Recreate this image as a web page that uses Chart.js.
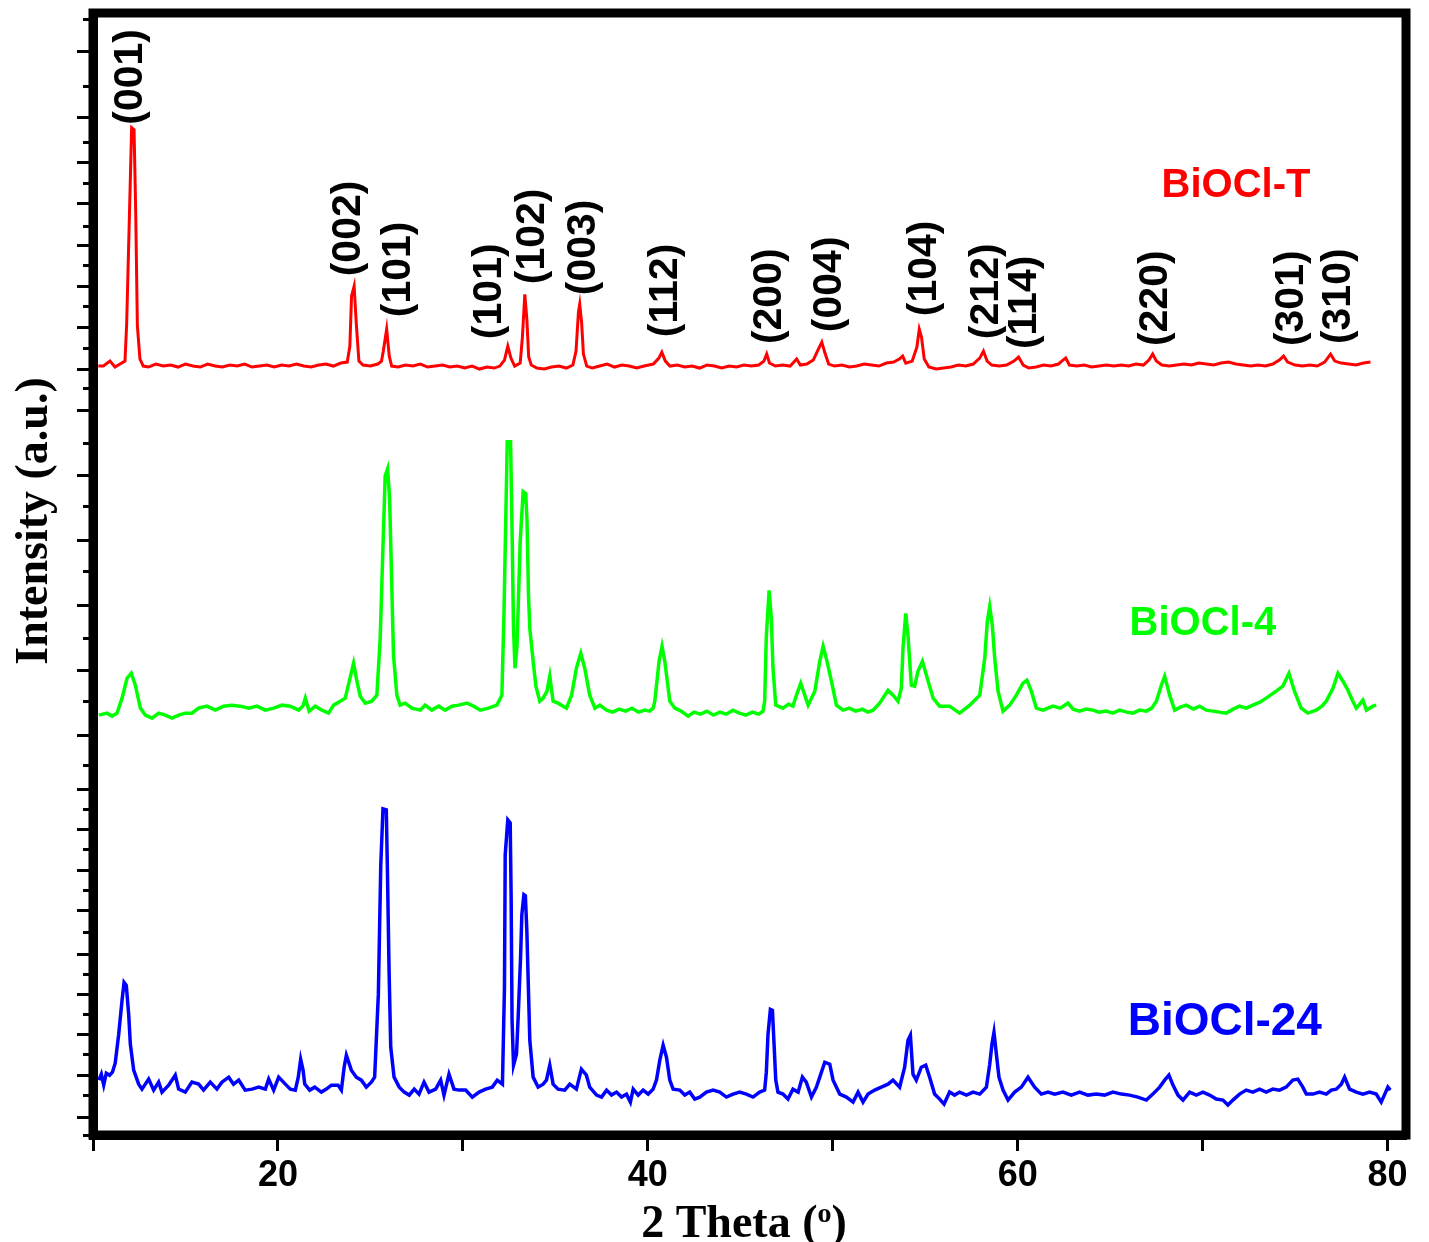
<!DOCTYPE html>
<html>
  <head>
    <script src="https://cdn.jsdelivr.net/npm/chart.js"></script>
    <style>
      body {
        margin: 0;
        padding: 0;
        background: #fff;
        overflow: hidden;
      }
      #wrap {
        width: 1429px;
        height: 1242px;
      }
    </style>
  </head>
  <body>
    <div id="wrap"><canvas id="xrdChart" width="1429" height="1242"></canvas></div>
    <script>
      // [2 theta, intensity (a.u., stacked offsets)]
      const bioclT = [
        [10.29, 771], [10.56, 771], [10.92, 776], [11.19, 770], [11.46, 773], [11.73, 776], [11.82, 813],
        [11.96, 915], [12.09, 1010], [12.22, 1008], [12.31, 925], [12.4, 811], [12.54, 778], [12.72, 771],
        [13.0, 770], [13.4, 773], [13.8, 771], [14.2, 772], [14.6, 770], [15.0, 773], [15.4, 771], [15.8, 770],
        [16.2, 773], [16.6, 771], [17.0, 770], [17.4, 772], [17.8, 771], [18.2, 773], [18.6, 770], [19.0, 771],
        [19.4, 772], [19.8, 770], [20.2, 772], [20.6, 771], [21.0, 773], [21.4, 771], [21.8, 770], [22.2, 772],
        [22.6, 773], [23.0, 771], [23.4, 774], [23.75, 775], [23.89, 791], [23.98, 841], [24.12, 851],
        [24.25, 810], [24.38, 776], [24.6, 772], [25.0, 771], [25.4, 773], [25.6, 776], [25.69, 785],
        [25.88, 808], [26.02, 781], [26.15, 771], [26.5, 770], [26.9, 772], [27.3, 771], [27.7, 773],
        [28.1, 770], [28.5, 771], [28.9, 772], [29.3, 770], [29.7, 771], [30.1, 769], [30.5, 771], [30.9, 768],
        [31.3, 770], [31.7, 769], [32.0, 771], [32.25, 777], [32.43, 791], [32.6, 779], [32.8, 771],
        [33.1, 774], [33.22, 800], [33.35, 843], [33.46, 818], [33.56, 780], [33.7, 772], [34.0, 769],
        [34.4, 768], [34.8, 770], [35.2, 771], [35.6, 769], [35.95, 772], [36.12, 786], [36.25, 825],
        [36.32, 833], [36.42, 815], [36.52, 783], [36.7, 771], [37.0, 769], [37.4, 771], [37.8, 773],
        [38.2, 770], [38.6, 772], [39.0, 771], [39.4, 769], [39.8, 771], [40.3, 773], [40.6, 779], [40.76, 785],
        [40.95, 776], [41.2, 771], [41.6, 772], [42.0, 770], [42.4, 771], [42.8, 769], [43.2, 772], [43.6, 771],
        [44.0, 769], [44.4, 771], [44.8, 770], [45.2, 772], [45.6, 771], [46.0, 772], [46.28, 776], [46.43, 783],
        [46.58, 774], [46.9, 771], [47.3, 772], [47.7, 771], [48.05, 778], [48.25, 772], [48.6, 773],
        [48.95, 777], [49.2, 787], [49.41, 795], [49.58, 784], [49.78, 773], [50.1, 771], [50.5, 772],
        [50.9, 770], [51.3, 771], [51.7, 773], [52.1, 772], [52.5, 771], [52.9, 774], [53.3, 775], [53.6, 778],
        [53.78, 781], [53.95, 774], [54.3, 776], [54.55, 790], [54.68, 808], [54.8, 800], [54.95, 778],
        [55.2, 770], [55.6, 768], [56.0, 769], [56.4, 770], [56.8, 772], [57.2, 771], [57.6, 773], [57.95, 779],
        [58.15, 786], [58.35, 776], [58.6, 772], [59.0, 771], [59.4, 772], [59.8, 776], [60.05, 780],
        [60.3, 772], [60.6, 769], [61.0, 770], [61.4, 772], [61.8, 771], [62.2, 773], [62.45, 777], [62.6, 779],
        [62.8, 772], [63.2, 771], [63.6, 772], [64.0, 770], [64.4, 771], [64.8, 772], [65.2, 771], [65.6, 772],
        [66.0, 771], [66.4, 773], [66.8, 772], [67.1, 777], [67.3, 783], [67.5, 776], [67.8, 772], [68.2, 771],
        [68.6, 772], [69.0, 773], [69.4, 772], [69.8, 774], [70.2, 773], [70.6, 772], [71.0, 774], [71.4, 775],
        [71.8, 773], [72.2, 772], [72.6, 771], [73.0, 772], [73.4, 771], [73.8, 773], [74.15, 777],
        [74.38, 781], [74.6, 775], [75.0, 772], [75.4, 771], [75.8, 772], [76.2, 771], [76.6, 775],
        [76.92, 783], [77.15, 776], [77.5, 774], [77.9, 773], [78.3, 772], [78.7, 774], [79.08, 775],
      ];

      const biocl4 = [
        [10.32, 421], [10.76, 423], [11.03, 420], [11.3, 423], [11.57, 438], [11.84, 458], [12.07, 463],
        [12.29, 451], [12.56, 428], [12.83, 421], [13.19, 418], [13.55, 423], [13.91, 421], [14.27, 418],
        [14.63, 421], [14.99, 423], [15.35, 423], [15.71, 428], [16.16, 430], [16.61, 426], [17.06, 430],
        [17.51, 431], [17.96, 430], [18.42, 428], [18.86, 430], [19.31, 426], [19.77, 428], [20.22, 431],
        [20.66, 430], [21.12, 426], [21.35, 430], [21.48, 438], [21.69, 425], [22.02, 430], [22.38, 426],
        [22.74, 423], [23.01, 431], [23.37, 435], [23.64, 438], [23.86, 455], [24.09, 473], [24.27, 455],
        [24.45, 440], [24.72, 433], [25.08, 435], [25.35, 441], [25.53, 498], [25.66, 578], [25.8, 661],
        [25.93, 668], [26.04, 638], [26.16, 548], [26.25, 481], [26.43, 441], [26.61, 431], [26.88, 433],
        [27.24, 428], [27.69, 426], [27.96, 431], [28.32, 426], [28.69, 430], [29.04, 426], [29.41, 430],
        [29.77, 431], [30.22, 433], [30.58, 430], [30.94, 426], [31.39, 428], [31.84, 431], [32.11, 441],
        [32.22, 520], [32.29, 588], [32.4, 695], [32.58, 695], [32.66, 608], [32.74, 508], [32.82, 468],
        [32.93, 491], [33.1, 595], [33.26, 645], [33.4, 643], [33.47, 615], [33.55, 541], [33.62, 508],
        [33.8, 475], [33.95, 450], [34.16, 435], [34.34, 438], [34.55, 445], [34.7, 460], [34.88, 435],
        [35.15, 433], [35.6, 428], [35.88, 441], [36.14, 468], [36.38, 483], [36.59, 468], [36.86, 441],
        [37.14, 428], [37.41, 431], [37.77, 426], [38.1, 424], [38.45, 427], [38.8, 425], [39.15, 428],
        [39.5, 424], [39.85, 426], [40.1, 425], [40.29, 428], [40.38, 435], [40.61, 475], [40.77, 490],
        [40.92, 475], [41.19, 435], [41.46, 428], [41.8, 425], [42.18, 420], [42.5, 424], [42.85, 422],
        [43.2, 425], [43.55, 421], [43.9, 424], [44.25, 422], [44.6, 426], [44.95, 423], [45.3, 421],
        [45.65, 424], [46.0, 422], [46.23, 425], [46.32, 435], [46.41, 500], [46.56, 546], [46.68, 518],
        [46.77, 468], [46.92, 431], [47.31, 428], [47.6, 432], [47.85, 430], [48.04, 441], [48.27, 453],
        [48.49, 441], [48.67, 431], [49.03, 445], [49.3, 475], [49.48, 490], [49.69, 475], [49.93, 455],
        [50.2, 431], [50.56, 426], [50.9, 428], [51.25, 425], [51.6, 427], [51.9, 424], [52.18, 426],
        [52.54, 433], [52.99, 446], [53.26, 441], [53.53, 435], [53.71, 448], [53.8, 488], [53.95, 523],
        [54.07, 501], [54.25, 451], [54.43, 450], [54.61, 465], [54.85, 475], [55.16, 455], [55.43, 438],
        [55.78, 430], [56.32, 430], [56.86, 423], [57.41, 431], [57.95, 441], [58.22, 478], [58.36, 515],
        [58.49, 530], [58.63, 511], [58.76, 478], [58.94, 445], [59.21, 425], [59.57, 431], [59.93, 441],
        [60.29, 453], [60.5, 456], [60.74, 445], [61.01, 428], [61.37, 426], [61.91, 430], [62.3, 428],
        [62.72, 433], [63.0, 427], [63.35, 425], [63.7, 427], [64.07, 426], [64.4, 424], [64.79, 425],
        [65.15, 423], [65.51, 426], [65.9, 424], [66.23, 423], [66.6, 426], [66.96, 425], [67.25, 428],
        [67.5, 435], [67.77, 451], [67.95, 460], [68.22, 441], [68.49, 426], [68.8, 429], [69.12, 431],
        [69.5, 427], [69.84, 430], [70.2, 426], [70.56, 425], [70.9, 424], [71.28, 423], [71.65, 427],
        [72.0, 430], [72.36, 428], [72.72, 431], [73.1, 434], [73.44, 438], [73.98, 445], [74.34, 450],
        [74.67, 463], [74.97, 445], [75.33, 428], [75.69, 423], [76.14, 426], [76.45, 430], [76.69, 435],
        [77.05, 448], [77.32, 463], [77.59, 455], [77.86, 446], [78.1, 436], [78.31, 428], [78.5, 432],
        [78.67, 436], [78.86, 426], [79.21, 430], [79.39, 431],
      ];

      const biocl24 = [
        [10.32, 55], [10.45, 61], [10.58, 50], [10.72, 62], [10.9, 60], [11.05, 63], [11.2, 72], [11.39, 101],
        [11.57, 135], [11.68, 153], [11.8, 150], [11.93, 121], [12.02, 91], [12.2, 65], [12.47, 51],
        [12.65, 46], [13.01, 56], [13.28, 45], [13.55, 53], [13.73, 43], [14.09, 50], [14.45, 60], [14.63, 46],
        [14.99, 43], [15.35, 53], [15.71, 51], [15.98, 45], [16.34, 53], [16.7, 46], [16.97, 53], [17.34, 58],
        [17.6, 51], [17.88, 55], [18.23, 45], [18.6, 46], [18.96, 48], [19.32, 46], [19.5, 56], [19.77, 45],
        [20.04, 58], [20.4, 51], [20.67, 46], [20.94, 45], [21.1, 58], [21.23, 76], [21.36, 65], [21.45, 51],
        [21.72, 45], [21.99, 48], [22.35, 43], [22.62, 46], [22.89, 50], [23.25, 50], [23.43, 45], [23.58, 68],
        [23.7, 80], [23.97, 65], [24.24, 58], [24.51, 55], [24.78, 48], [25.05, 53], [25.23, 58], [25.43, 141],
        [25.56, 270], [25.68, 327], [25.86, 326], [25.92, 266], [26.01, 165], [26.1, 88], [26.28, 58],
        [26.56, 48], [26.83, 43], [27.1, 40], [27.37, 46], [27.63, 41], [27.9, 53], [28.17, 43], [28.53, 46],
        [28.8, 55], [28.98, 40], [29.25, 61], [29.52, 46], [29.79, 45], [30.15, 45], [30.51, 38], [30.88, 43],
        [31.23, 46], [31.59, 48], [31.86, 55], [32.14, 51], [32.25, 148], [32.29, 281], [32.43, 316],
        [32.56, 313], [32.61, 240], [32.66, 115], [32.74, 70], [32.9, 81], [32.99, 118], [33.12, 178],
        [33.19, 221], [33.3, 241], [33.38, 240], [33.46, 205], [33.62, 95], [33.8, 58], [34.07, 48],
        [34.34, 51], [34.52, 55], [34.7, 70], [34.88, 51], [35.15, 46], [35.51, 45], [35.78, 51], [36.14, 46],
        [36.41, 66], [36.68, 60], [36.86, 48], [37.23, 40], [37.5, 38], [37.77, 45], [38.04, 40], [38.31, 43],
        [38.58, 38], [38.85, 41], [39.06, 33], [39.21, 46], [39.48, 40], [39.75, 45], [40.02, 41], [40.29, 46],
        [40.47, 55], [40.65, 75], [40.83, 90], [41.01, 78], [41.19, 55], [41.37, 46], [41.73, 45], [42.0, 40],
        [42.27, 43], [42.54, 36], [42.81, 38], [43.17, 43], [43.53, 45], [43.89, 43], [44.25, 38], [44.61, 41],
        [44.97, 43], [45.33, 41], [45.69, 38], [46.05, 43], [46.32, 45], [46.41, 63], [46.5, 101],
        [46.63, 126], [46.74, 125], [46.81, 98], [46.92, 55], [47.04, 43], [47.31, 41], [47.58, 36],
        [47.85, 46], [48.13, 43], [48.36, 58], [48.57, 53], [48.85, 38], [49.12, 48], [49.3, 58], [49.57, 73],
        [49.84, 71], [50.02, 55], [50.38, 41], [50.74, 38], [51.1, 33], [51.37, 43], [51.64, 33], [51.91, 41],
        [52.27, 45], [52.63, 48], [52.99, 51], [53.26, 55], [53.62, 48], [53.89, 68], [54.07, 95], [54.2, 100],
        [54.34, 61], [54.52, 55], [54.79, 68], [55.03, 70], [55.24, 58], [55.51, 41], [55.78, 36], [56.02, 31],
        [56.32, 43], [56.59, 40], [56.86, 43], [57.23, 40], [57.59, 43], [57.95, 41], [58.31, 48], [58.49, 71],
        [58.61, 91], [58.72, 103], [58.85, 81], [58.99, 58], [59.21, 45], [59.48, 35], [59.84, 43], [60.2, 48],
        [60.56, 58], [60.92, 48], [61.28, 41], [61.64, 43], [62.0, 41], [62.45, 43], [62.9, 40], [63.35, 43],
        [63.8, 40], [64.25, 41], [64.7, 40], [65.15, 43], [65.61, 41], [66.05, 40], [66.5, 38], [66.96, 35],
        [67.31, 41], [67.68, 48], [67.95, 55], [68.18, 60], [68.4, 50], [68.67, 40], [68.94, 35], [69.3, 43],
        [69.66, 40], [70.02, 43], [70.38, 40], [70.74, 36], [71.1, 35], [71.37, 30], [71.64, 35], [72.0, 41],
        [72.36, 45], [72.72, 43], [73.08, 46], [73.44, 43], [73.8, 46], [74.16, 45], [74.52, 48], [74.88, 55],
        [75.15, 56], [75.42, 48], [75.61, 41], [75.97, 41], [76.32, 43], [76.69, 41], [76.96, 45], [77.23, 46],
        [77.5, 51], [77.68, 58], [77.95, 46], [78.31, 43], [78.67, 41], [79.03, 43], [79.39, 41], [79.66, 33],
        [79.9, 43], [80.02, 48], [80.15, 45],
      ];

      // axis ticks
      const xTicks = [10, 20, 30, 40, 50, 60, 70, 80];
      const xTickLabels = [20, 40, 60, 80];
      const yTicks = [
        0, 18, 40, 60, 81, 101, 121, 141, 161, 181, 203, 225, 245, 265, 286, 306, 326, 346, 370, 401, 435,
        466, 498, 531, 565, 596, 630, 661, 693, 726, 748, 768, 789, 810, 831, 851, 872, 892, 911, 934, 954,
        975, 995, 1020, 1051, 1086, 1118,
      ];

      // reflection labels: text, 2 theta, intensity where the text starts
      const peakLabels = ["(001)", "(002)", "(101)", "(101)", "(102)", "(003)", "(112)", "(200)",
        "(004)", "(104)", "(212)", "(114)", "(220)", "(301)", "(310)"];
      const peakTheta = [12.05, 23.84, 26.54, 31.46, 33.78, 36.54, 40.97, 46.59, 49.84, 54.97, 58.32,
        60.38, 67.46, 74.81, 77.35];
      const peakHeight = [1013, 861, 820, 798, 853, 842, 800, 793, 805, 821, 798, 788, 791, 791, 793];

      // sample names
      const sampleNames = ["BiOCl-T", "BiOCl-4", "BiOCl-24"];
      const sampleColors = ["#ff0000", "#00ff00", "#0000ff"];
      const nameTheta = [67.78, 66.05, 65.95];
      const nameHeight = [941, 501, 100];

      const sans = '"Liberation Sans", Arial, sans-serif';
      const serif = '"Liberation Serif", "Times New Roman", serif';

      const decorations = {
        id: "decorations",
        afterDatasetsDraw(chart) {
          const { ctx, chartArea: a, scales } = chart;
          const x = scales.x;
          const y = scales.y;
          ctx.save();

          // thick frame round the plot
          ctx.lineWidth = 9;
          ctx.strokeStyle = "#000";
          ctx.strokeRect(a.left, a.top, a.right - a.left, a.bottom - a.top);

          // rotated reflection labels
          ctx.fillStyle = "#000";
          ctx.font = "bold 41px " + sans;
          ctx.textAlign = "left";
          ctx.textBaseline = "middle";
          peakLabels.forEach((label, i) => {
            ctx.save();
            ctx.translate(x.getPixelForValue(peakTheta[i]), y.getPixelForValue(peakHeight[i]));
            ctx.rotate(-Math.PI / 2);
            ctx.fillText(label, 0, 0);
            ctx.restore();
          });

          // sample names
          ctx.textBaseline = "alphabetic";
          sampleNames.forEach((name, i) => {
            ctx.fillStyle = sampleColors[i];
            ctx.font = "bold " + (i === 2 ? 46 : 40) + "px " + sans;
            ctx.fillText(name, x.getPixelForValue(nameTheta[i]), y.getPixelForValue(nameHeight[i]));
          });

          // x axis title with raised "o"
          ctx.fillStyle = "#000";
          const big = "bold 46px " + serif;
          const small = "bold 28px " + serif;
          ctx.font = big;
          const w1 = ctx.measureText("2 Theta (").width;
          const w3 = ctx.measureText(")").width;
          ctx.font = small;
          const w2 = ctx.measureText("o").width;
          let tx = 744 - (w1 + w2 + w3) / 2;
          ctx.font = big;
          ctx.fillText("2 Theta (", tx, 1237);
          ctx.font = small;
          ctx.fillText("o", tx + w1, 1222);
          ctx.font = big;
          ctx.fillText(")", tx + w1 + w2, 1237);

          // y axis title
          ctx.save();
          ctx.translate(47, 521);
          ctx.rotate(-Math.PI / 2);
          ctx.textAlign = "center";
          ctx.font = big;
          ctx.fillText("Intensity (a.u.)", 0, 0);
          ctx.restore();

          ctx.restore();
        },
      };

      const series = [bioclT, biocl4, biocl24];
      const lineWidths = [3, 3.5, 3.5];

      new Chart(document.getElementById("xrdChart"), {
        type: "line",
        data: {
          datasets: series.map((s, i) => ({
            label: sampleNames[i],
            data: s.map(([t, v]) => ({ x: t, y: v })),
            borderColor: sampleColors[i],
            borderWidth: lineWidths[i],
            pointRadius: 0,
            tension: 0,
            fill: false,
          })),
        },
        options: {
          responsive: false,
          animation: false,
          layout: {
            padding: { left: 77, right: 23, top: 13, bottom: 41.8 },
          },
          plugins: {
            legend: { display: false },
            tooltip: { enabled: false },
          },
          scales: {
            x: {
              type: "linear",
              min: 10,
              max: 81,
              afterBuildTicks: (scale) => {
                scale.ticks = xTicks.map((v) => ({ value: v }));
              },
              ticks: {
                autoSkip: false,
                maxRotation: 0,
                padding: 3,
                color: "#000",
                font: { family: sans, weight: "bold", size: 36 },
                callback: (v) => (xTickLabels.includes(v) ? String(v) : ""),
              },
              grid: {
                drawOnChartArea: false,
                tickLength: 16,
                tickWidth: 3,
                tickColor: "#000",
              },
              border: { display: true, width: 9, color: "#000" },
            },
            y: {
              min: 0,
              max: 1125,
              afterBuildTicks: (scale) => {
                scale.ticks = yTicks.map((v) => ({ value: v }));
              },
              ticks: { display: false },
              grid: {
                drawOnChartArea: false,
                tickLength: 16,
                tickWidth: 3,
                tickColor: "#000",
                // every other tick is a short one
                tickBorderDash: (ctx) => (ctx.index % 2 === 0 ? [0, 6, 30, 0] : []),
              },
              border: { display: true, width: 9, color: "#000" },
            },
          },
        },
        plugins: [decorations],
      });
    </script>
  </body>
</html>
